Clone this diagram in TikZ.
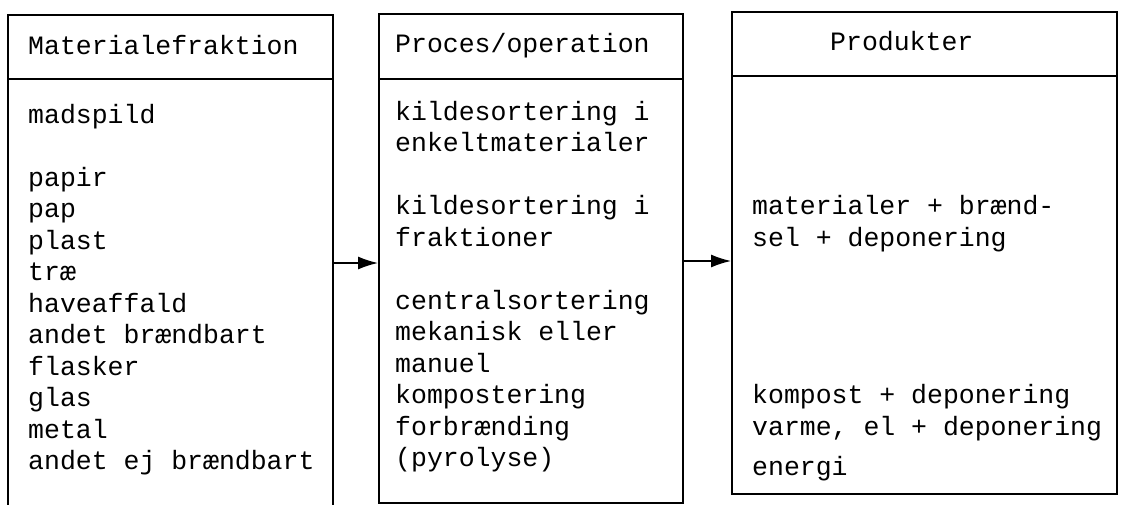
\documentclass[tikz,border=0pt]{standalone}
\usepackage{fontspec}
\newfontfamily\skrivemaskine{Liberation Mono}
\usetikzlibrary{positioning,arrows.meta}

\begin{document}
\begin{tikzpicture}
            [
                x=1pt, y=-1pt,
                kasse/.style={rectangle, draw, line width=1.8pt, inner sep=0pt},
                aaben/.style={rectangle, inner sep=0pt},
                linje/.style={line width=1.8pt},
                tekst/.style={anchor=base west, inner sep=0pt, align=left,
                    font=\skrivemaskine\fontsize{26.5}{31.5}\selectfont},
                pil/.style={line width=1.8pt, -{Latex[length=20pt,width=13pt]}},
            ]
            \useasboundingbox (0,0) rectangle (1121,505);
            %kasserne
            \node[aaben, minimum width=325pt, minimum height=490pt] (mat) at (170.5,260) {};
            \node[kasse, minimum width=304pt, minimum height=489pt] (proc) at (531,258.5) {};
            \node[kasse, minimum width=385pt, minimum height=482pt] (prod) at (924.5,253) {};
            \draw[linje] (mat.south west) |- (mat.north east) -- (mat.south east);
            \draw[linje] (mat.west |- 0,79) -- (mat.east |- 0,79);
            \draw[linje] (proc.west |- 0,79) -- (proc.east |- 0,79);
            \draw[linje] (prod.west |- 0,76) -- (prod.east |- 0,76);
            %overskrifter
            \node[tekst] (matH) at (28,55) {Materialefraktion};
            \node[tekst] (procH) at (395,53) {Proces/operation};
            \node[tekst] (prodH) at (830,51) {Produkter};
            %indhold (base = sidste linje)
            \node[tekst] (matT) at (28,469.5) {madspild\\[31.5pt]
                papir\\pap\\plast\\træ\\haveaffald\\andet brændbart\\
                flasker\\glas\\metal\\andet ej brændbart};
            \node[tekst] (procT) at (395,466.5) {kildesortering i\\enkeltmaterialer\\[31.5pt]
                kildesortering i\\fraktioner\\[31.5pt]
                centralsortering\\mekanisk eller\\manuel\\kompostering\\
                forbrænding\\(pyrolyse)};
            \node[tekst] (prodA) at (752,246) {materialer + brænd-\\sel + deponering};
            \node[tekst] (prodB) at (752,435) {kompost + deponering\\varme, el + deponering};
            \node[tekst] (prodC) at (752,475) {energi};
            %pile
            \draw[pil] (mat.east |- 0,263) -- (proc.west |- 0,263);
            \draw[pil] (proc.east |- 0,261) -- (prod.west |- 0,261);
        \end{tikzpicture}
\end{document}
